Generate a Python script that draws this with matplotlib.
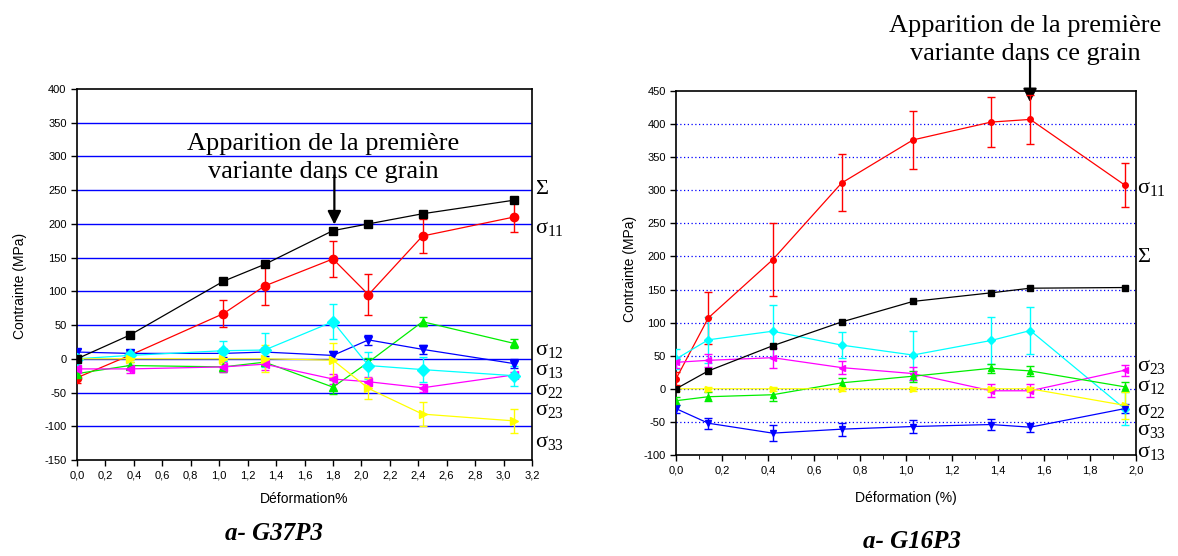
import numpy as np
import matplotlib
matplotlib.use("Agg")
import matplotlib.pyplot as plt
from matplotlib.ticker import MultipleLocator, FuncFormatter

plt.rcParams['font.family'] = ['Liberation Sans', 'DejaVu Sans']
plt.rcParams['mathtext.fontset'] = 'custom'
plt.rcParams['mathtext.rm'] = 'Liberation Serif'
plt.rcParams['mathtext.it'] = 'Liberation Serif:italic'
plt.rcParams['axes.unicode_minus'] = False

# ---- G37P3 (left) ----
x_g37 = [0.0, 0.37, 1.03, 1.32, 1.80, 2.05, 2.43, 3.07]
sig_tot_g37 = [0, 35, 115, 140, 190, 200, 215, 235]
s11_g37 = [-28, 5, 67, 108, 148, 95, 182, 210]
s11_err_g37 = [8, 6, 20, 28, 27, 30, 25, 22]
s12_g37 = [-22, -10, -12, -5, -42, -5, 55, 23]
s12_err_g37 = [6, 5, 8, 6, 10, 6, 7, 7]
s13_g37 = [10, 8, 8, 10, 5, 28, 14, -7]
s13_err_g37 = [5, 5, 6, 6, 6, 7, 7, 7]
s22_g37 = [-15, -15, -12, -8, -30, -34, -43, -24]
s22_err_g37 = [6, 6, 7, 8, 8, 7, 6, 5]
s23_g37 = [0, 5, 12, 13, 55, -10, -16, -25]
s23_err_g37 = [6, 6, 15, 25, 26, 20, 18, 15]
s33_g37 = [0, 0, 0, 0, -2, -44, -82, -92]
s33_err_g37 = [5, 5, 8, 20, 25, 15, 18, 18]

# ---- G16P3 (right) ----
x_g16 = [0.0, 0.14, 0.42, 0.72, 1.03, 1.37, 1.54, 1.95]
sig_tot_g16 = [0, 27, 65, 101, 132, 145, 152, 153]
s11_g16 = [15, 107, 195, 311, 376, 403, 407, 308]
s11_err_g16 = [10, 39, 55, 43, 44, 38, 37, 33]
s12_g16 = [-18, -12, -9, 9, 19, 31, 27, 3]
s12_err_g16 = [6, 7, 10, 8, 8, 7, 7, 7]
s13_g16 = [-30, -52, -67, -61, -57, -54, -58, -30]
s13_err_g16 = [6, 8, 12, 10, 10, 8, 7, 7]
s22_g16 = [0, 0, 0, 0, 0, 0, 0, -25]
s22_err_g16 = [3, 3, 3, 3, 3, 3, 3, 20]
s23_g16 = [40, 43, 47, 32, 23, -3, -3, 28]
s23_err_g16 = [8, 10, 15, 10, 10, 10, 10, 8]
s33_g16 = [45, 74, 87, 66, 51, 73, 88, -30]
s33_err_g16 = [15, 35, 40, 20, 37, 35, 36, 25]

labels_g37 = ['Σ', 'σ$_{11}$', 'σ$_{12}$', 'σ$_{13}$', 'σ$_{22}$', 'σ$_{23}$', 'σ$_{33}$']
labels_g16 = ['σ$_{11}$', 'Σ', 'σ$_{23}$', 'σ$_{12}$', 'σ$_{22}$', 'σ$_{33}$', 'σ$_{13}$']
ann = 'Apparition de la première\nvariante dans ce grain'

fig = plt.figure(figsize=(11.78, 5.56), dpi=100)
ax1 = fig.add_axes([0.0654, 0.1727, 0.3862, 0.6673])
ax2 = fig.add_axes([0.5739, 0.1817, 0.3905, 0.6547])

comma = FuncFormatter(lambda v, p: f"{v:.1f}".replace('.', ','))


def draw(ax, x, tot, series, ms, cap):
    ax.plot(x, tot, color='black', marker='s', ms=ms, lw=0.9, zorder=5)
    for y, e, c, m in series:
        ax.errorbar(x, y, yerr=e, color=c, marker=m, ms=ms, lw=0.9,
                    elinewidth=1.0, capsize=cap, capthick=1.0, zorder=4)


draw(ax1, x_g37, sig_tot_g37, [
    (s11_g37, s11_err_g37, 'red', 'o'),
    (s12_g37, s12_err_g37, '#00ee00', '^'),
    (s13_g37, s13_err_g37, 'blue', 'v'),
    (s22_g37, s22_err_g37, 'magenta', '<'),
    (s23_g37, s23_err_g37, 'cyan', 'D'),
    (s33_g37, s33_err_g37, 'yellow', '>'),
], 6, 3)

draw(ax2, x_g16, sig_tot_g16, [
    (s11_g16, s11_err_g16, 'red', 'o'),
    (s33_g16, s33_err_g16, 'cyan', 'D'),
    (s23_g16, s23_err_g16, 'magenta', '<'),
    (s12_g16, s12_err_g16, '#00ee00', '^'),
    (s22_g16, s22_err_g16, 'yellow', '>'),
    (s13_g16, s13_err_g16, 'blue', 'v'),
], 4, 3)

ax1.set_xlim(0, 3.2)
ax1.set_ylim(-150, 400)
ax1.xaxis.set_major_locator(MultipleLocator(0.2))
ax1.yaxis.set_major_locator(MultipleLocator(50))
ax1.xaxis.set_major_formatter(comma)
for v in range(-100, 400, 50):
    ax1.axhline(v, color='blue', lw=1.0, zorder=1)
ax1.set_xlabel('Déformation%', fontsize=10)
ax1.set_ylabel('Contrainte (MPa)', fontsize=10)
ax1.xaxis.set_label_coords(0.5, -0.085)
ax1.yaxis.set_label_coords(-0.11, 0.47)

ax2.set_xlim(0, 2.0)
ax2.set_ylim(-100, 450)
ax2.xaxis.set_major_locator(MultipleLocator(0.2))
ax2.xaxis.set_minor_locator(MultipleLocator(0.1))
ax2.yaxis.set_major_locator(MultipleLocator(50))
ax2.xaxis.set_major_formatter(comma)
for v in range(-50, 450, 50):
    ax2.axhline(v, color='blue', lw=0.9, ls=(0, (1, 2)), zorder=1)
ax2.set_xlabel('Déformation (%)', fontsize=10)
ax2.set_ylabel('Contrainte (MPa)', fontsize=10)
ax2.xaxis.set_label_coords(0.5, -0.1)
ax2.yaxis.set_label_coords(-0.085, 0.51)

for ax in (ax1, ax2):
    ax.tick_params(labelsize=8, direction='out', length=4, width=1)
    ax.tick_params(which='minor', direction='out', length=3)
    for s in ax.spines.values():
        s.set_linewidth(1.2)

serif = 'Liberation Serif'
# labels on the right side of each panel
for txt, y in zip(labels_g37, [189, 228, 351, 371, 391, 411, 442]):
    fig.text(535 / 1178, 1 - y / 556, txt, family=serif, fontsize=16, va='center', ha='left')
for txt, y in zip(labels_g16, [189, 257, 366, 387, 410, 431, 452]):
    fig.text(1137 / 1178, 1 - y / 556, txt, family=serif, fontsize=16, va='center', ha='left')

ax1.text(1.73, 298, ann, fontsize=19, family=serif, ha='center', va='center', linespacing=1.35)
ax1.annotate('', xy=(1.81, 199), xytext=(1.81, 272),
             arrowprops=dict(arrowstyle='-|>', color='black', lw=1.6, mutation_scale=20,
                             shrinkA=0, shrinkB=0))
ax2.text(1.517, 527, ann, fontsize=19, family=serif, ha='center', va='center',
         linespacing=1.35, clip_on=False)
ax2.annotate('', xy=(1.539, 433), xytext=(1.539, 502), annotation_clip=False,
             arrowprops=dict(arrowstyle='-|>', color='black', lw=1.6, mutation_scale=20,
                             shrinkA=0, shrinkB=0))

fig.text(274 / 1178, 1 - 533 / 556, 'a- G37P3', family=serif, fontsize=18,
         weight='bold', style='italic', ha='center', va='center')
fig.text(912 / 1178, 1 - 542 / 556, 'a- G16P3', family=serif, fontsize=18,
         weight='bold', style='italic', ha='center', va='center')

fig.savefig('out.png', dpi=100)
